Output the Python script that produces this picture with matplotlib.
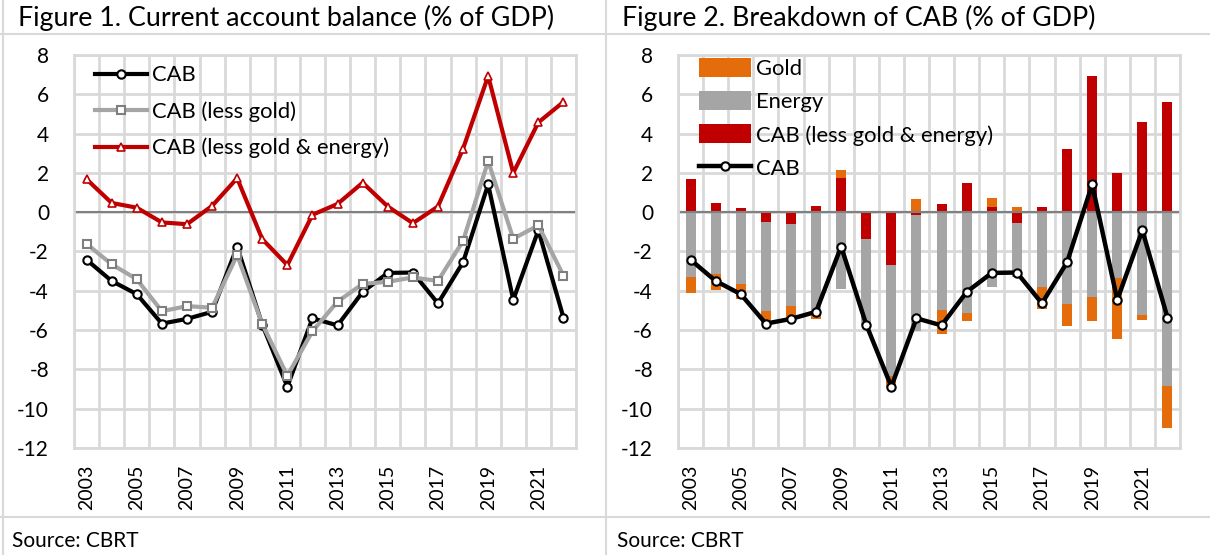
import numpy as np
import matplotlib
matplotlib.use("Agg")
import matplotlib.pyplot as plt
from matplotlib.lines import Line2D

plt.rcParams['font.family'] = ['Lato', 'DejaVu Sans']
plt.rcParams['axes.unicode_minus'] = False

years = list(range(2003, 2023))
year_labels = [str(y) if (y - 2003) % 2 == 0 else '' for y in years]

cab = [-2.42, -3.50, -4.17, -5.67, -5.43, -5.07, -1.75, -5.72, -8.88, -5.40,
       -5.76, -4.06, -3.09, -3.07, -4.64, -2.55, 1.41, -4.46, -0.92, -5.36]
cab_less_gold = [-1.61, -2.65, -3.41, -5.04, -4.78, -4.86, -2.18, -5.69, -8.32, -6.06,
                 -4.55, -3.65, -3.54, -3.32, -3.50, -1.46, 2.60, -1.35, -0.67, -3.23]
cab_less_ge = [1.68, 0.47, 0.23, -0.52, -0.61, 0.32, 1.73, -1.37, -2.69, -0.13,
               0.42, 1.50, 0.29, -0.56, 0.29, 3.23, 6.93, 2.00, 4.57, 5.61]
energy = [-3.29, -3.12, -3.64, -4.52, -4.17, -5.18, -3.91, -4.32, -5.63, -5.93,
          -4.97, -5.15, -3.83, -2.76, -3.79, -4.69, -4.33, -3.35, -5.24, -8.84]
gold = [-0.81, -0.85, -0.76, -0.63, -0.65, -0.25, 0.43, -0.03, -0.56, 0.66,
        -1.21, -0.41, 0.45, 0.25, -1.14, -1.09, -1.19, -3.11, -0.25, -2.13]

RED = '#C00000'
GREY = '#A5A5A5'
ORANGE = '#E46C0A'
GRID = '#D9D9D9'
FS = 15
LEG_FS = 15.8

W, H = 1210, 555
fig = plt.figure(figsize=(W / 100, H / 100), dpi=100)


def style_axes(ax):
    x = np.arange(len(years))
    ax.set_xlim(-0.5, len(years) - 0.5)
    ax.set_ylim(-12, 8)
    ax.set_yticks(np.arange(-12, 9, 2))
    ax.set_xticks(x)
    ax.set_xticklabels(year_labels, rotation=90, fontsize=14)
    ax.set_xticks(np.arange(-0.5, len(years), 1), minor=True)
    ax.tick_params(axis='both', which='both', length=0)
    ax.tick_params(axis='y', pad=18, labelsize=FS)
    ax.tick_params(axis='x', pad=12)
    ax.grid(True, which='minor', axis='x', color=GRID, lw=2)
    ax.grid(True, which='major', axis='y', color=GRID, lw=2)
    ax.set_axisbelow(True)
    for s in ax.spines.values():
        s.set_color(GRID)
        s.set_linewidth(2)
    ax.axhline(0, color='#808080', lw=1.5, zorder=2)
    return x


# left panel: lines
ax1 = fig.add_axes([74 / W, 1 - 448 / H, 502 / W, 393 / H])
x = style_axes(ax1)
ax1.plot(x, cab, color='black', lw=3, marker='o', ms=6, mfc='white',
         mec='black', mew=1.5, label='CAB', zorder=3)
ax1.plot(x, cab_less_gold, color=GREY, lw=3, marker='s', ms=6, mfc='white',
         mec='#7F7F7F', mew=1.5, label='CAB (less gold)', zorder=3)
ax1.plot(x, cab_less_ge, color=RED, lw=3, marker='^', ms=6, mfc='white',
         mec=RED, mew=1.2, label='CAB (less gold & energy)', zorder=3)
ax1.legend(loc='upper left', bbox_to_anchor=(0.015, 1.007), frameon=False,
           fontsize=LEG_FS, handlelength=2.4, handletextpad=0.2, labelspacing=0.72,
           borderaxespad=0.2)

# right panel: stacked bars + line
ax2 = fig.add_axes([678 / W, 1 - 448 / H, 502 / W, 393 / H])
style_axes(ax2)
pos = np.zeros(len(years))
neg = np.zeros(len(years))
handles = {}
for vals, col, lab in [(cab_less_ge, RED, 'CAB (less gold & energy)'),
                       (energy, GREY, 'Energy'),
                       (gold, ORANGE, 'Gold')]:
    v = np.array(vals)
    bottom = np.where(v >= 0, pos, neg)
    handles[lab] = ax2.bar(x, v, 0.4, bottom=bottom, color=col, label=lab, zorder=2)
    pos = pos + np.where(v >= 0, v, 0)
    neg = neg + np.where(v < 0, v, 0)
ax2.axhline(0, color='#808080', lw=1.5, zorder=2.5)
ln, = ax2.plot(x, cab, color='black', lw=3.2, marker='o', ms=6, mfc='white',
               mec='black', mew=1.5, label='CAB', zorder=3)
ax2.legend([handles['Gold'], handles['Energy'], handles['CAB (less gold & energy)'], ln],
           ['Gold', 'Energy', 'CAB (less gold & energy)', 'CAB'],
           loc='upper left', bbox_to_anchor=(0.015, 1.025), frameon=False,
           fontsize=LEG_FS, handlelength=2.4, handleheight=0.95, handletextpad=0.2,
           labelspacing=0.55, borderaxespad=0.2)

# titles, source and table borders
fig.text(18 / W, 1 - 18 / H, 'Figure 1. Current account balance (% of GDP)',
         fontsize=19.3, va='center', ha='left')
fig.text(622 / W, 1 - 18 / H, 'Figure 2. Breakdown of CAB (% of GDP)',
         fontsize=19.3, va='center', ha='left')
fig.text(12 / W, 1 - 541 / H, 'Source: CBRT', fontsize=15, va='center', ha='left')
fig.text(617 / W, 1 - 541 / H, 'Source: CBRT', fontsize=15, va='center', ha='left')

for yy in [34, 517]:
    fig.add_artist(Line2D([0, 1], [1 - yy / H, 1 - yy / H], color=GRID, lw=1.5))
for xx in [3, 606]:
    fig.add_artist(Line2D([xx / W, xx / W], [0, 1], color=GRID, lw=1.5))

fig.savefig('out.png', dpi=100)
